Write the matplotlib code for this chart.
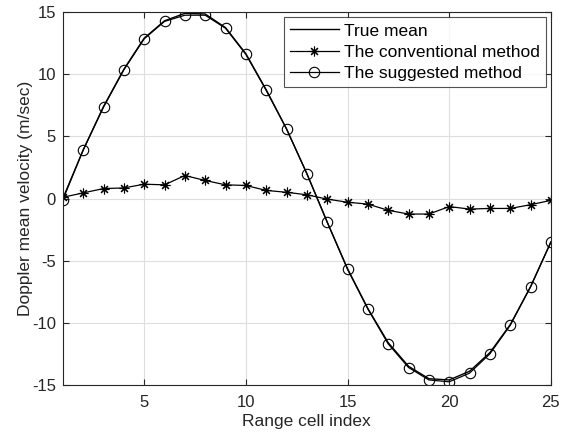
import matplotlib.pyplot as plt
import numpy as np

plt.rcParams['font.family'] = ['Liberation Sans', 'DejaVu Sans']
plt.rcParams['axes.unicode_minus'] = False

# range cell index
cells = list(range(1, 26))

# values
true_mean = [0.0, 3.9, 7.4, 10.4, 12.9, 14.3, 14.9, 14.85, 13.75, 11.65,
             8.75, 5.6, 2.0, -1.9, -5.65, -8.85, -11.6, -13.5, -14.5, -14.6,
             -13.9, -12.4, -10.15, -7.1, -3.5]
conventional = [0.1, 0.45, 0.8, 0.85, 1.15, 1.1, 1.85, 1.45, 1.1, 1.05,
                0.65, 0.5, 0.3, -0.05, -0.3, -0.45, -0.95, -1.25, -1.25, -0.65,
                -0.85, -0.8, -0.8, -0.5, -0.15]
suggested = [-0.1, 3.9, 7.35, 10.35, 12.85, 14.25, 14.75, 14.75, 13.7, 11.6,
             8.7, 5.6, 2.0, -1.9, -5.7, -8.9, -11.7, -13.6, -14.6, -14.75,
             -14.05, -12.5, -10.2, -7.1, -3.5]

fig = plt.figure(figsize=(5.61, 4.32), dpi=100)
ax = fig.add_axes([0.112, 0.109, 0.870, 0.863])

ax.plot(cells, true_mean, color='k', lw=1.0, label="True mean")
ax.plot(cells, conventional, color='k', lw=0.9, marker=(8, 2, 0), ms=7,
        mew=0.8, label="The conventional method")
ax.plot(cells, suggested, color='k', lw=0.9, marker='o', mfc='none', ms=7.5,
        mew=0.8, label="The suggested method")

ax.set_xlim(1, 25)
ax.set_ylim(-15, 15)
ax.set_xticks([5, 10, 15, 20, 25])
ax.set_yticks(np.arange(-15, 16, 5))
ax.grid(True, color='#dedede', lw=0.8)
ax.set_axisbelow(True)

for sp in ax.spines.values():
    sp.set_color('#262626')
    sp.set_linewidth(0.8)
ax.tick_params(direction='in', top=True, right=True, length=4, width=0.8,
               colors='#262626', labelsize=12, labelcolor='#262626')
ax.tick_params(axis='x', pad=7)
ax.tick_params(axis='y', pad=5)

ax.set_xlabel("Range cell index", fontsize=12.5, color='#262626', labelpad=3)
ax.set_ylabel("Doppler mean velocity (m/sec)", fontsize=12.5, color='#262626', labelpad=-1)

leg = ax.legend(loc='upper right', fontsize=12.5, frameon=True, fancybox=False,
                edgecolor='#262626', borderaxespad=0.3, handlelength=2.8,
                borderpad=0.35, labelspacing=0.35, handletextpad=0.3)
leg.get_frame().set_linewidth(0.8)

fig.savefig("out.png", dpi=100)
